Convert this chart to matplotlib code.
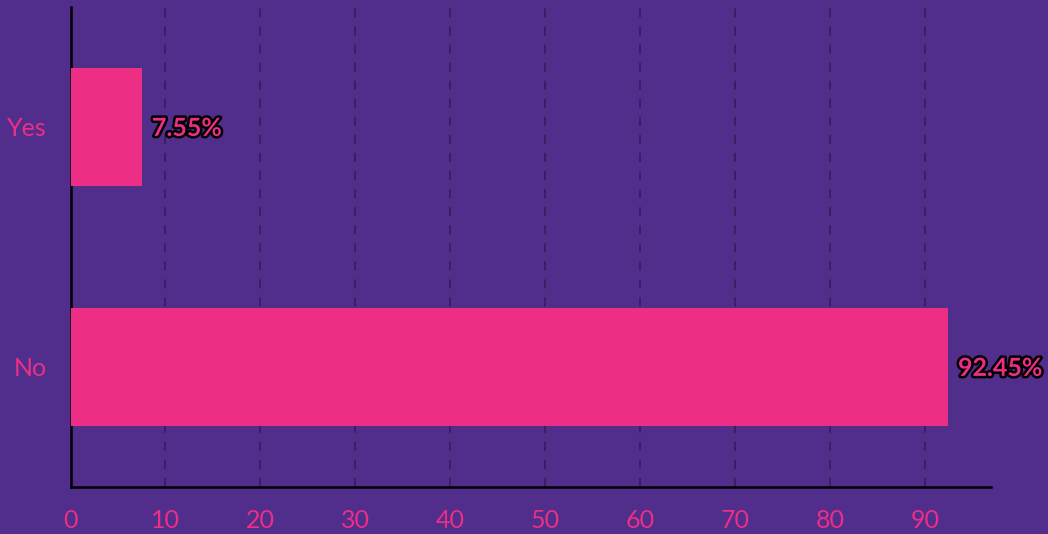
import matplotlib.pyplot as plt
import matplotlib.patheffects as pe

categories = ["No", "Yes"]
values = [92.45, 7.55]
labels = ["92.45%", "7.55%"]

bg = "#512d8c"
pink = "#ec2e85"

plt.rcParams["font.family"] = ["Lato", "DejaVu Sans"]

fig = plt.figure(figsize=(10.48, 5.34), dpi=100, facecolor=bg)
ax = fig.add_axes([70.5 / 1048, 1 - 487 / 534, 920 / 1048, 480 / 534])
ax.set_facecolor(bg)

ax.barh(categories, values, height=0.49, color=pink, zorder=3)

for i, (v, lab) in enumerate(zip(values, labels)):
    ax.annotate(
        lab,
        (v, i),
        xytext=(7, -1),
        textcoords="offset points",
        va="center",
        ha="left",
        fontsize=18,
        fontweight="bold",
        color=pink,
        path_effects=[pe.withStroke(linewidth=3.5, foreground="black")],
        zorder=4,
    )

ax.set_xlim(0, 96.9)
ax.set_ylim(-0.5, 1.5)
ax.set_xticks(range(0, 100, 10))
ax.grid(axis="x", color="#36205f", linestyle=(0, (5, 5)), linewidth=1.3, zorder=1)
ax.set_axisbelow(True)

for side in ["top", "right"]:
    ax.spines[side].set_visible(False)
for side in ["left", "bottom"]:
    ax.spines[side].set_color("black")
    ax.spines[side].set_linewidth(1.8)
    ax.spines[side].set_zorder(2)

ax.tick_params(axis="both", length=0, labelcolor=pink, labelsize=18)
ax.tick_params(axis="x", pad=16)
ax.tick_params(axis="y", pad=17)

fig.savefig("out.png", dpi=100, facecolor=bg)
